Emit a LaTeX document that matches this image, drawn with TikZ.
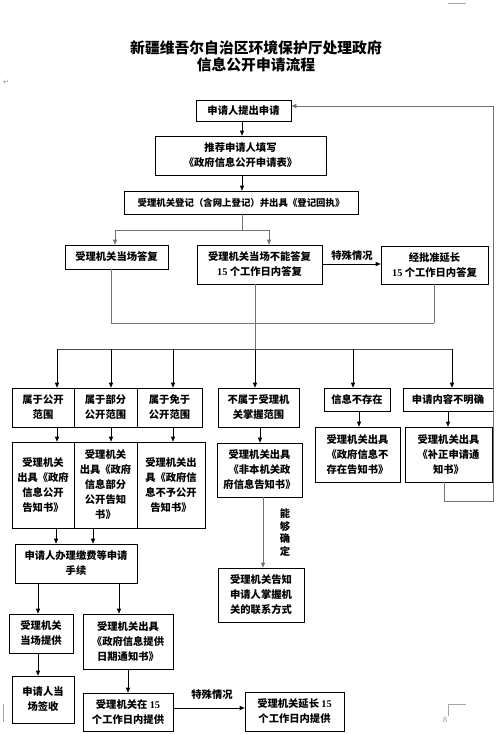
\documentclass[tikz,border=0pt]{standalone}
\usepackage{fontspec}
\setmainfont{Noto Sans CJK SC}
\newfontfamily\lat{Liberation Serif}
\newfontfamily\djv{DejaVu Sans}
\usetikzlibrary{arrows.meta}
\begin{document}
\begin{tikzpicture}[x=1pt,y=-1pt,
  box/.style={draw, line width=0.6pt, inner sep=0pt, align=center,
    font=\bfseries\fontsize{10.3}{15}\selectfont},
  wh/.style 2 args={minimum width=#1pt, minimum height=#2pt},
  arr/.style={-{Triangle[length=5pt,width=4pt]}, line width=0.6pt},
  gline/.style={line width=1pt, draw=black!55},
  lbl/.style={font=\bfseries\fontsize{10.3}{12.8}\selectfont, inner sep=0pt, align=center},
  chrome/.style={draw=black!35, line width=0.4pt}]
\useasboundingbox[fill=white] (0,0) rectangle (503,734);

% title
\node[font=\bfseries\fontsize{14.8}{17}\selectfont, align=center, inner sep=0pt] (title) at (256,56.5)
  {新疆维吾尔自治区环境保护厅处理政府\\信息公开申请流程};

% page chrome
\node[font=\djv\fontsize{7}{8}\selectfont, text=black!45, inner sep=0pt] (ret) at (6,82) {↵};
\node[font=\lat\fontsize{8}{9}\selectfont, text=black!45, inner sep=0pt] (pg) at (445,720) {8};
\draw[chrome] (448,3) -- (466,3);
\draw[chrome] (448,716) -- (448,704) -- (466,704);
\draw[chrome] (3,704) -- (3,722);

% boxes
\node[box, wh={95}{21}] (b1) at (243.5,110.5) {申请人提出申请};
\node[box, wh={171}{39}] (b2) at (240.5,155.5) {推荐申请人填写\\《政府信息公开申请表》};
\node[box, wh={234}{23}, font=\bfseries\fontsize{9.4}{12}\selectfont] (b3) at (241,202.5) {受理机关登记（含网上登记）并出具《登记回执》};
\node[box, wh={103}{24}] (b4) at (116.5,257) {受理机关当场答复};
\node[box, wh={125}{39}] (b5) at (259.5,264.5) {受理机关当场不能答复\\{\lat 15} 个工作日内答复};
\node[box, wh={107}{38}] (b6) at (434.5,265) {经批准延长\\{\lat 15} 个工作日内答复};

\node[box, wh={62}{39}] (b7) at (43,407.5) {属于公开\\范围};
\node[box, wh={63}{39}] (b8) at (105.5,407.5) {属于部分\\公开范围};
\node[box, wh={65}{39}] (b9) at (169.5,407.5) {属于免于\\公开范围};
\node[box, wh={81}{39}] (b10) at (258.5,407.5) {不属于受理机\\关掌握范围};
\node[box, wh={66}{23}] (b11) at (357,399.5) {信息不存在};
\node[box, wh={90}{23}] (b12) at (448,399.5) {申请内容不明确};

\node[box, wh={62}{86}] (b13) at (43,485) {受理机关\\出具《政府\\信息公开\\告知书》};
\node[box, wh={63}{86}] (b14) at (105.5,485) {受理机关\\出具《政府\\信息部分\\公开告知\\书》};
\node[box, wh={68}{86}] (b15) at (171,485) {受理机关出\\具《政府信\\息不予公开\\告知书》};
\node[box, wh={85}{54}] (b16) at (259.5,470) {受理机关出具\\《非本机关政\\府信息告知书》};
\node[box, wh={85}{55}] (b17) at (357.5,454.5) {受理机关出具\\《政府信息不\\存在告知书》};
\node[box, wh={87}{55}] (b18) at (448.5,454.5) {受理机关出具\\《补正申请通\\知书》};

\node[box, wh={122}{39}] (b19) at (76,563.5) {申请人办理缴费等申请\\手续};
\node[box, wh={64}{39}] (b20) at (41,633.5) {受理机关\\当场提供};
\node[box, wh={90}{55}] (b21) at (128,641.5) {受理机关出具\\《政府信息提供\\日期通知书》};
\node[box, wh={62}{47}] (b22) at (43,699.5) {申请人当\\场签收};
\node[box, wh={90}{38}] (b23) at (128,712) {受理机关在 {\lat 15}\\个工作日内提供};
\node[box, wh={99}{39}] (b24) at (294.5,711.5) {受理机关延长 {\lat 15}\\个工作日内提供};
\node[box, wh={86}{54}] (b25) at (261,595) {受理机关告知\\申请人掌握机\\关的联系方式};

% labels
\node[lbl] (l1) at (352,256) {特殊情况};
\node[lbl] (l2) at (212,695) {特殊情况};
\node[lbl] (l3) at (285,532.5) {能\\够\\确\\定};

% helper coordinates
\coordinate (yA) at (0,230);
\coordinate (yB) at (0,323);
\coordinate (yC) at (0,349);
\foreach \xx in {38,56,57,93,111,115,119,128,173,242,255,260,263,269,353,359,434,444,448,452,493}
  {\coordinate (x\xx) at (\xx,0);}

% connectors
\draw[arr] (b1.south -| x242) -- (b2.north -| x242);
\draw[arr] (b2.south -| x242) -- (b3.north -| x242);
\draw[gline] (b3.south -| x242) -- (x242 |- yA);
\draw[gline] (x115 |- yA) -- (x269 |- yA);
\draw[gline, arr, draw=black!55] (x115 |- yA) -- (b4.north -| x115);
\draw[gline, arr, draw=black!55] (x269 |- yA) -- (b5.north -| x269);
\draw[arr] (b5.east |- 0,264) -- node[coordinate] (m1) {} (b6.west |- 0,264);

\draw[gline] (b4.south -| x111) -- (x111 |- yB) -- (x434 |- yB);
\draw[gline] (b6.south -| x434) -- (x434 |- yB);
\draw[gline] (b5.south -| x255) -- (x255 |- yC);
\draw[arr] (x255 |- yC) -- (b10.north -| x255);
\draw[line width=0.8pt, draw=black!70] (x57 |- yC) -- (x452 |- yC);
\draw[arr] (x57 |- yC) -- (b7.north -| x57);
\draw[arr] (x111 |- yC) -- (b8.north -| x111);
\draw[arr] (x173 |- yC) -- (b9.north -| x173);
\draw[arr] (x353 |- yC) -- (b11.north -| x353);
\draw[arr] (x452 |- yC) -- (b12.north -| x452);

\draw[arr] (b7.south -| x57) -- (b13.north -| x57);
\draw[arr] (b8.south -| x111) -- (b14.north -| x111);
\draw[arr] (b9.south -| x173) -- (b15.north -| x173);
\draw[arr] (b10.south -| x260) -- (b16.north -| x260);
\draw[arr] (b11.south -| x359) -- (b17.north -| x359);
\draw[arr] (b12.south -| x448) -- (b18.north -| x448);

\draw[gline] (b18.south -| x444) -- (x444 |- 0,501) -- (x493 |- 0,501) -- (x493 |- 0,106);
\draw[gline, arr, draw=black!55] (x493 |- 0,106) -- (b1.east |- 0,106);

\draw[gline, arr, draw=black!55] (b16.south -| x263) -- (b25.north -| x263);

\draw[arr] (b13.south -| x56) -- (b19.north -| x56);
\draw[arr] (b14.south -| x93) -- (b19.north -| x93);
\draw[arr] (b19.south -| x38) -- (b20.north -| x38);
\draw[arr] (b19.south -| x119) -- (b21.north -| x119);
\draw[arr] (b20.south -| x38) -- (b22.north -| x38);
\draw[arr] (b21.south -| x128) -- (b23.north -| x128);
\draw[arr] (b23.east |- 0,708) -- (b24.west |- 0,708);
\end{tikzpicture}
\end{document}
